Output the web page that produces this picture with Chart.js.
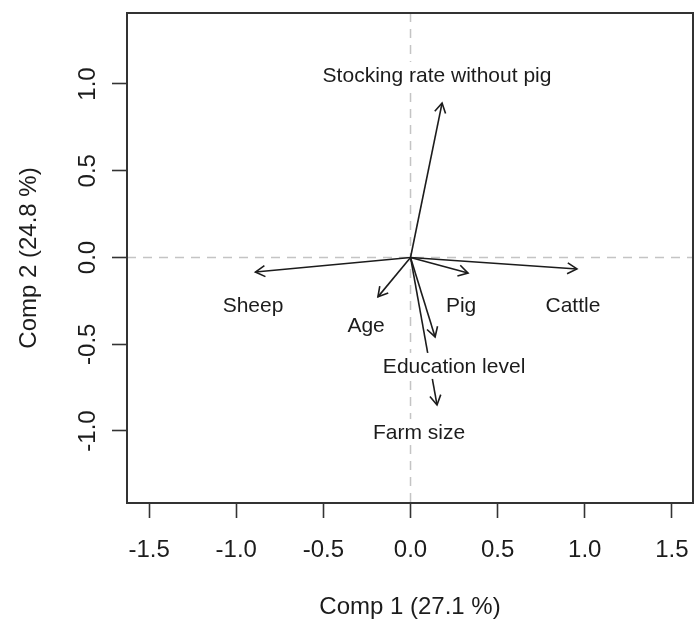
<!DOCTYPE html>
<html>
<head>
<meta charset="utf-8">
<script src="https://cdn.jsdelivr.net/npm/chart.js@4/dist/chart.umd.min.js"></script>
<style>
  html, body { margin: 0; padding: 0; background: #ffffff; }
  #wrap { width: 695px; height: 626px; position: relative; }
</style>
</head>
<body>
<div id="wrap"><canvas id="c" width="695" height="626"></canvas></div>
<script>
// ---- data ----
const varNames = ['Stocking rate without pig', 'Sheep', 'Cattle', 'Pig', 'Age', 'Education level', 'Farm size'];
const comp1 = [0.181, -0.890, 0.955, 0.330, -0.187, 0.141, 0.152];
const comp2 = [0.890, -0.084, -0.066, -0.090, -0.227, -0.458, -0.850];
const labelX = [0.152, -0.904, 0.932, 0.290, -0.255, 0.250, 0.049];
const labelY = [1.052, -0.274, -0.274, -0.274, -0.389, -0.625, -1.006];
const xTicks = [-1.5, -1.0, -0.5, 0.0, 0.5, 1.0, 1.5];
const yTicks = [-1.0, -0.5, 0.0, 0.5, 1.0];
const xTitle = 'Comp 1 (27.1 %)';
const yTitle = 'Comp 2 (24.8 %)';

const FONT = "'Liberation Sans', Arial, sans-serif";
const INK = '#1c1c1c';

const datasets = varNames.map((n, i) => ({
  label: n,
  data: [{x: 0, y: 0}, {x: comp1[i], y: comp2[i]}],
  showLine: true,
  borderColor: INK,
  borderWidth: 1.6,
  pointRadius: 0,
  fill: false
}));

const biplotPlugin = {
  id: 'biplot',
  beforeDatasetsDraw(chart) {
    const {ctx, chartArea: a, scales: {x, y}} = chart;
    ctx.save();
    ctx.strokeStyle = '#c4c4c4';
    ctx.lineWidth = 1.5;
    ctx.setLineDash([9, 7]);
    const x0 = x.getPixelForValue(0), y0 = y.getPixelForValue(0);
    ctx.beginPath();
    ctx.moveTo(x0, a.top); ctx.lineTo(x0, a.bottom);
    ctx.moveTo(a.left, y0); ctx.lineTo(a.right, y0);
    ctx.stroke();
    ctx.restore();
  },
  afterDatasetsDraw(chart) {
    const {ctx, chartArea: a, scales: {x, y}} = chart;
    ctx.save();
    // arrow heads
    ctx.strokeStyle = INK;
    ctx.lineWidth = 1.6;
    chart.data.datasets.forEach((ds, i) => {
      const pts = chart.getDatasetMeta(i).data;
      const p0 = pts[0], p1 = pts[1];
      const ang = Math.atan2(p1.y - p0.y, p1.x - p0.x);
      const L = 11, h = Math.PI / 6;
      ctx.beginPath();
      ctx.moveTo(p1.x - L * Math.cos(ang - h), p1.y - L * Math.sin(ang - h));
      ctx.lineTo(p1.x, p1.y);
      ctx.lineTo(p1.x - L * Math.cos(ang + h), p1.y - L * Math.sin(ang + h));
      ctx.stroke();
    });
    // labels with white backing
    ctx.font = '21px ' + FONT;
    ctx.textAlign = 'center';
    ctx.textBaseline = 'middle';
    varNames.forEach((n, i) => {
      const px = x.getPixelForValue(labelX[i]);
      const py = y.getPixelForValue(labelY[i]);
      const w = ctx.measureText(n).width;
      ctx.fillStyle = '#ffffff';
      ctx.fillRect(px - w / 2 - 2, py - 13, w + 4, 26);
      ctx.fillStyle = INK;
      ctx.fillText(n, px, py + 1);
    });
    // box
    ctx.strokeStyle = '#333333';
    ctx.lineWidth = 2;
    ctx.setLineDash([]);
    ctx.strokeRect(a.left, a.top, a.right - a.left, a.bottom - a.top);
    ctx.restore();
  }
};

new Chart(document.getElementById('c'), {
  type: 'scatter',
  data: { datasets },
  options: {
    responsive: false,
    animation: false,
    devicePixelRatio: 1,
    layout: { padding: { top: 13, right: 2, left: 0, bottom: 0 } },
    plugins: { legend: { display: false }, tooltip: { enabled: false } },
    scales: {
      x: {
        type: 'linear',
        min: -1.627, max: 1.621,
        afterBuildTicks: s => { s.ticks = xTicks.map(v => ({ value: v })); },
        afterFit: s => { s.height = 123; s.paddingLeft = 0; s.paddingRight = 0; },
        grid: { display: true, drawOnChartArea: false, drawTicks: true, tickLength: 15, tickColor: '#333333', tickWidth: 1.6 },
        border: { display: false },
        ticks: {
          color: INK, padding: 18,
          font: { family: FONT, size: 24 },
          maxRotation: 0, minRotation: 0,
          callback: v => Number(v).toFixed(1)
        },
        title: { display: true, text: xTitle, color: INK, font: { family: FONT, size: 24 }, padding: { top: 0, bottom: 4 } }
      },
      y: {
        type: 'linear',
        min: -1.415, max: 1.409,
        afterBuildTicks: s => { s.ticks = yTicks.map(v => ({ value: v })); },
        afterFit: s => { s.width = 127; s.paddingTop = 0; s.paddingBottom = 0; },
        grid: { display: true, drawOnChartArea: false, drawTicks: true, tickLength: 15, tickColor: '#333333', tickWidth: 1.6 },
        border: { display: false },
        ticks: {
          color: INK, padding: 3,
          font: { family: FONT, size: 24 },
          minRotation: 90, maxRotation: 90,
          crossAlign: 'center',
          callback: v => Number(v).toFixed(1)
        },
        title: { display: true, text: yTitle, color: INK, font: { family: FONT, size: 24 }, padding: { top: 15, bottom: 0 } }
      }
    }
  },
  plugins: [biplotPlugin]
});
</script>
</body>
</html>
